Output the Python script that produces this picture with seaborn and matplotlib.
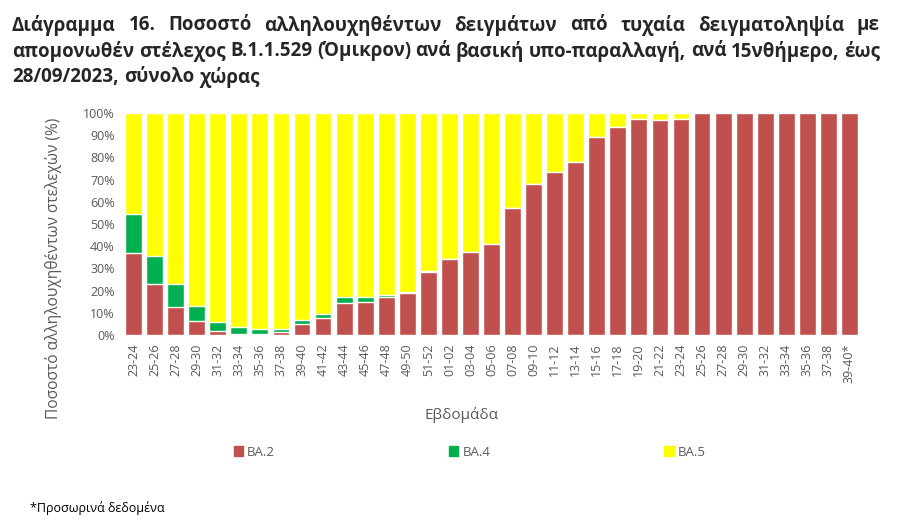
import pandas as pd
import matplotlib
matplotlib.use('Agg')
import matplotlib.pyplot as plt
import seaborn as sns
from matplotlib.patches import Patch

# two-week periods (2022 -> 2023)
weeks = ['23-24', '25-26', '27-28', '29-30', '31-32', '33-34', '35-36', '37-38',
         '39-40', '41-42', '43-44', '45-46', '47-48', '49-50', '51-52',
         '01-02', '03-04', '05-06', '07-08', '09-10', '11-12', '13-14', '15-16',
         '17-18', '19-20', '21-22', '23-24', '25-26', '27-28', '29-30', '31-32',
         '33-34', '35-36', '37-38', '39-40*']

ba2 = [37.0, 23.0, 12.5, 6.2, 2.0, 0.5, 0.3, 1.4, 5.0, 7.8, 14.6, 14.9, 17.3, 18.9,
       28.4, 34.1, 37.3, 41.2, 57.3, 67.9, 73.5, 77.8, 89.3, 93.5, 97.3, 96.7, 97.4,
       100, 100, 100, 100, 100, 100, 100, 100]
ba4 = [17.4, 12.8, 10.4, 6.8, 4.0, 3.0, 2.3, 1.5, 1.6, 1.7, 2.3, 2.0, 0.5, 0.4,
       0.6, 0.2, 0, 0, 0, 0, 0, 0, 0, 0, 0, 0, 0,
       0, 0, 0, 0, 0, 0, 0, 0]
ba5 = [45.6, 64.2, 77.1, 87.0, 94.0, 96.5, 97.4, 97.1, 93.4, 90.5, 83.1, 83.1, 82.2, 80.7,
       71.0, 65.7, 62.7, 58.8, 42.7, 32.1, 26.5, 22.2, 10.7, 6.5, 2.7, 3.3, 2.6,
       0, 0, 0, 0, 0, 0, 0, 0]

colors = {'BA.2': '#C0504D', 'BA.4': '#00B050', 'BA.5': '#FFFF00'}
grey = '#595959'

sns.set_style('white')
plt.rcParams['font.family'] = ['Open Sans', 'DejaVu Sans']

# position index keeps the repeated week labels apart
df = pd.DataFrame({'pos': range(len(weeks)), 'BA.2': ba2, 'BA.4': ba4, 'BA.5': ba5})
df['top4'] = df['BA.2'] + df['BA.4']
df['top5'] = df['top4'] + df['BA.5']

W, H = 900, 528
fig = plt.figure(figsize=(9, 5.28), dpi=100)
ax = fig.add_axes([123 / W, 193 / H, 737 / W, 222 / H])

# stacked bars drawn as overlapping cumulative totals
sns.barplot(data=df, x='pos', y='top5', color=colors['BA.5'], width=0.8, saturation=1, ax=ax)
sns.barplot(data=df, x='pos', y='top4', color=colors['BA.4'], width=0.8, saturation=1, ax=ax)
sns.barplot(data=df, x='pos', y='BA.2', color=colors['BA.2'], width=0.8, saturation=1, ax=ax)

ax.set_ylim(0, 100)
ax.set_yticks(range(0, 101, 10))
ax.set_yticklabels([f'{v}%' for v in range(0, 101, 10)], fontsize=9, color=grey)
ax.set_xticks(range(len(weeks)))
ax.set_xticklabels(weeks, rotation=90, fontsize=9, color=grey)
ax.tick_params(length=0, pad=6)
sns.despine(ax=ax, left=True, bottom=True)
ax.set_xlabel('')
ax.set_ylabel('Ποσοστό αλληλουχηθέντων στελεχών (%)', fontsize=11.2, color=grey)
ax.yaxis.set_label_coords(-0.083, 0.3)

fig.text(462 / W, 1 - 415 / H, 'Εβδομάδα', ha='center', va='center', fontsize=11, color=grey)

handles = [Patch(color=colors[k], label=k) for k in ['BA.2', 'BA.4', 'BA.5']]
fig.legend(handles=handles, loc='center left', bbox_to_anchor=(222 / W, 1 - 452 / H),
           ncol=3, frameon=False, fontsize=9.5, labelcolor=grey,
           handlelength=0.7, handleheight=0.7, handletextpad=0.3, columnspacing=13.2)

fig.text(30 / W, 1 - 508 / H, '*Προσωρινά δεδομένα', fontsize=9, color='black', va='center')

# justified bold title
renderer = fig.canvas.get_renderer()


def justify(line, y, x0, x1, spread=True):
    words = line.split()
    texts = [fig.text(0, 1 - y / H, w, fontsize=13.5, fontweight='bold', va='center')
             for w in words]
    widths = [t.get_window_extent(renderer).width for t in texts]
    gap = (x1 - x0 - sum(widths)) / (len(words) - 1) if spread else 5.5
    x = x0
    for t, w in zip(texts, widths):
        t.set_x(x / W)
        x += w + gap


justify('Διάγραμμα 16. Ποσοστό αλληλουχηθέντων δειγμάτων από τυχαία δειγματοληψία με', 25, 12, 880)
justify('απομονωθέν στέλεχος B.1.1.529 (Όμικρον) ανά βασική υπο-παραλλαγή, ανά 15νθήμερο, έως', 51, 12, 880)
justify('28/09/2023, σύνολο χώρας', 77, 12, 880, spread=False)

fig.savefig('out.png', dpi=100)
